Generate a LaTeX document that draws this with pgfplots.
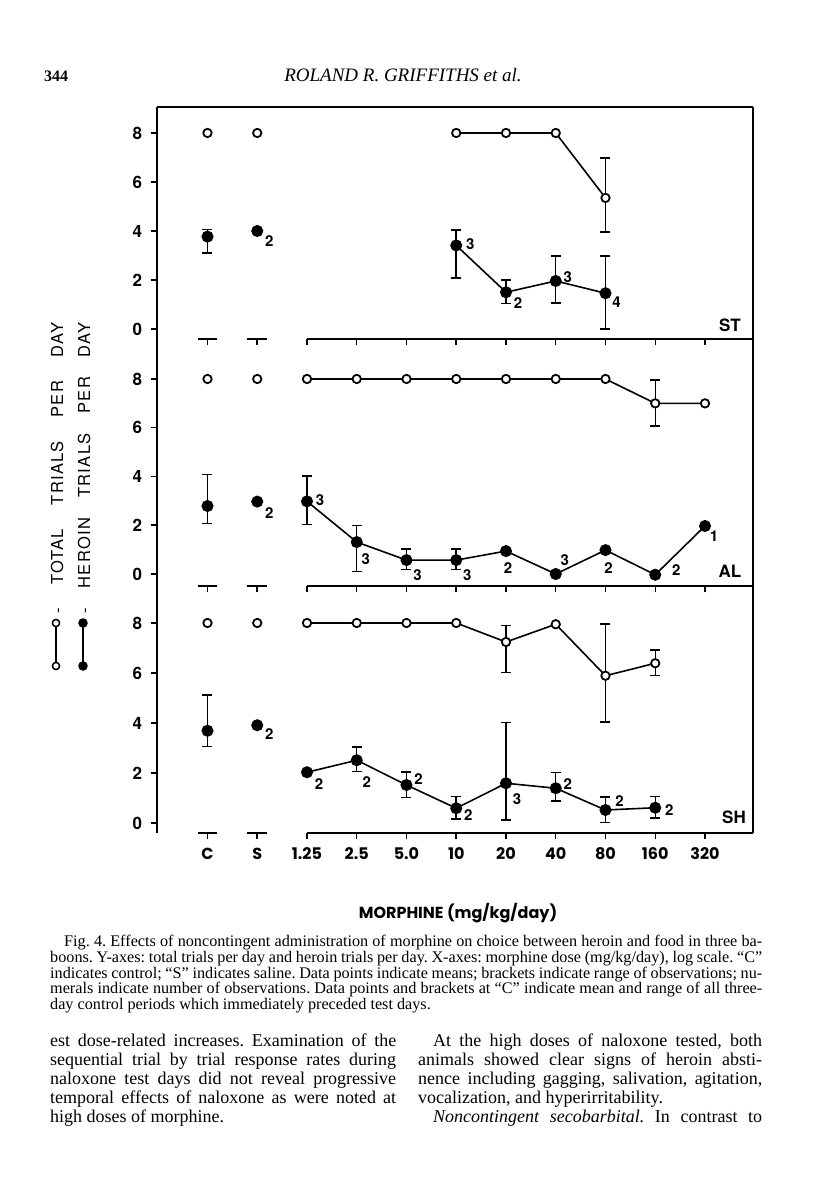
\documentclass[border=0pt]{standalone}
\usepackage{pgfplots}
\pgfplotsset{compat=1.18}
\usepackage{fontspec}
\setmainfont{Liberation Serif}
\newfontfamily\helv{TeX Gyre Heros}
\newfontfamily\helvsp[LetterSpace=8]{TeX Gyre Heros}
\newfontfamily\futura{Poppins}
\frenchspacing

\pgfplotsset{
  panel/.style={
    scale only axis, width=596pt, xmin=-3.015, xmax=8.965, clip=false,
    axis y line*=left, axis x line*=bottom,
    x axis line style={draw=none},
    y axis line style={-, line width=1.6pt},
    ytick={0,2,4,6,8}, xtick={-2,-1,0,1,2,3,4,5,6,7,8},
    tick align=outside, major tick length=6.5pt,
    every tick/.style={black, line width=1.5pt},
    yticklabel style={font=\helv\bfseries\fontsize{17}{17}\selectfont, xshift=-5pt,
      /pgf/number format/assume math mode=true},
    xticklabels={},
  },
  open/.style={black, line width=1.6pt, mark=*, mark size=4.2pt,
    mark options={fill=white, line width=1.8pt, solid}},
  full/.style={black, line width=1.6pt, mark=*, mark size=5.2pt,
    mark options={fill=black}},
  bars/.style={only marks, mark=none, forget plot,
    error bars/.cd, y dir=both, y explicit, error mark=none,
    error bar style={line width=1.5pt, black}},
  caps/.style={only marks, mark=-, mark size=5pt, black, forget plot,
    mark options={line width=1.5pt}},
}

% broken bottom axis line of a panel, and the right frame
\newcommand{\panelbase}[1]{%
  \draw[line width=1.6pt] (axis cs:0,#1) -- (axis cs:8.965,#1);
  \draw[line width=1.6pt] (axis cs:-2.2,#1) -- (axis cs:-1.8,#1);
  \draw[line width=1.6pt] (axis cs:-1.2,#1) -- (axis cs:-0.8,#1);
  \draw[line width=1.6pt] (rel axis cs:1,0) -- (rel axis cs:1,1);
}
% number of observations beside a point
\newcommand{\lab}[5]{\node[font=\helv\bfseries\fontsize{15}{15}\selectfont, inner sep=0pt,
  xshift=#3pt, yshift=#4pt] at (axis cs:#1,#2) {#5};}

\begin{document}
\begin{tikzpicture}[x=1pt,y=1pt]
\path[use as bounding box, fill=white] (0,0) rectangle (816,1200);

% header
\node[anchor=base west, inner sep=0pt, font=\bfseries\fontsize{16}{16}\selectfont] at (44,1118) {344};
\node[anchor=base, inner sep=0pt, font=\itshape\fontsize{19}{19}\selectfont] at (403,1118) {ROLAND R. GRIFFITHS et al.};

% ---------------- ST ----------------
\begin{axis}[panel, at={(157pt,861pt)}, anchor=south west,
  height=232pt, ymin=-0.408, ymax=9.061]
\draw[line width=1.6pt] (rel axis cs:0,1) -- (rel axis cs:1,1);
\panelbase{-0.408}
\addplot[bars] coordinates {(6,5.35) += (0,1.62) -= (0,1.40)};
\addplot[caps] coordinates {(6,6.97) (6,3.95)};
\addplot[open, only marks] coordinates {(-2,8) (-1,8)};
\addplot[open] coordinates {(3,8) (4,8) (5,8) (6,5.35)};
\addplot[bars] coordinates {
  (-2,3.77) += (0,0.30) -= (0,0.66)
  (3,3.41) += (0,0.63) -= (0,1.32)
  (4,1.50) += (0,0.50) -= (0,0.45)
  (5,1.96) += (0,1.02) -= (0,0.89)
  (6,1.46) += (0,1.52) -= (0,1.45)};
\addplot[caps] coordinates {(-2,4.07) (-2,3.11) (3,4.04) (3,2.09) (4,2.0) (4,1.05)
  (5,2.98) (5,1.07) (6,2.98) (6,0.01)};
\addplot[full, only marks] coordinates {(-2,3.77) (-1,4.0)};
\addplot[full] coordinates {(3,3.41) (4,1.50) (5,1.96) (6,1.46)};
\lab{-1}{4.0}{12}{-10}{2}
\lab{3}{3.41}{14}{1}{3}
\lab{4}{1.50}{12}{-11}{2}
\lab{5}{1.96}{12}{4}{3}
\lab{6}{1.46}{11}{-9}{4}
\end{axis}

% ---------------- AL ----------------
\begin{axis}[panel, at={(157pt,614pt)}, anchor=south west,
  height=247pt, ymin=-0.492, ymax=9.641]
\panelbase{-0.492}
\addplot[bars] coordinates {(7,7.0) += (0,0.96) -= (0,0.93)};
\addplot[caps] coordinates {(7,7.96) (7,6.07)};
\addplot[open, only marks] coordinates {(-2,8) (-1,8)};
\addplot[open] coordinates {(0,8) (1,8) (2,8) (3,8) (4,8) (5,8) (6,8) (7,7.0) (8,7.0)};
\addplot[bars] coordinates {
  (-2,2.79) += (0,1.30) -= (0,0.71)
  (0,2.98) += (0,1.05) -= (0,0.94)
  (1,1.31) += (0,0.67) -= (0,1.21)
  (2,0.57) += (0,0.46) -= (0,0.38)
  (3,0.57) += (0,0.46) -= (0,0.38)};
\addplot[caps] coordinates {(-2,4.09) (-2,2.08) (0,4.03) (0,2.04) (1,1.98) (1,0.10)
  (2,1.03) (2,0.19) (3,1.03) (3,0.19)};
\addplot[full, only marks] coordinates {(-2,2.79) (-1,2.97)};
\addplot[full] coordinates {(0,2.98) (1,1.31) (2,0.57) (3,0.57) (4,0.94) (5,0.0) (6,0.98) (7,-0.03) (8,1.97)};
\lab{-1}{2.97}{12}{-11}{2}
\lab{0}{2.98}{13}{1}{3}
\lab{1}{1.31}{9}{-17}{3}
\lab{2}{0.57}{11}{-15}{3}
\lab{3}{0.57}{11}{-15}{3}
\lab{4}{0.94}{2}{-17}{2}
\lab{5}{0.0}{9}{14}{3}
\lab{6}{0.98}{3}{-18}{2}
\lab{7}{-0.03}{21}{5}{2}
\lab{8}{1.97}{9}{-10}{1}
\end{axis}

% ---------------- SH ----------------
\begin{axis}[panel, at={(157pt,367pt)}, anchor=south west,
  height=247pt, ymin=-0.4, ymax=9.48,
  xticklabels={C,S,1.25,2.5,5.0,10,20,40,80,160,320},
  xticklabel style={font=\futura\bfseries\fontsize{16}{16}\selectfont, yshift=-5pt}]
\panelbase{-0.4}
\addplot[bars] coordinates {
  (4,7.24) += (0,0.65) -= (0,1.23)
  (6,5.89) += (0,2.06) -= (0,1.86)
  (7,6.39) += (0,0.52) -= (0,0.50)};
\addplot[caps] coordinates {(4,7.89) (4,6.01) (6,7.95) (6,4.03) (7,6.91) (7,5.89)};
\addplot[open, only marks] coordinates {(-2,8) (-1,8)};
\addplot[open] coordinates {(0,8) (1,8) (2,8) (3,8) (4,7.24) (5,7.95) (6,5.89) (7,6.39)};
\addplot[bars] coordinates {
  (-2,3.69) += (0,1.43) -= (0,0.64)
  (1,2.51) += (0,0.52) -= (0,0.46)
  (2,1.52) += (0,0.51) -= (0,0.51)
  (3,0.59) += (0,0.46) -= (0,0.44)
  (4,1.59) += (0,2.42) -= (0,1.47)
  (5,1.39) += (0,0.62) -= (0,0.51)
  (6,0.52) += (0,0.51) -= (0,0.51)
  (7,0.61) += (0,0.44) -= (0,0.42)};
\addplot[caps] coordinates {(-2,5.12) (-2,3.05) (1,3.03) (1,2.05) (2,2.03) (2,1.01)
  (3,1.05) (3,0.15) (4,4.01) (4,0.12) (5,2.01) (5,0.88) (6,1.03) (6,0.01)
  (7,1.05) (7,0.19)};
\addplot[full, only marks] coordinates {(-2,3.69) (-1,3.91)};
\addplot[full] coordinates {(0,2.03) (1,2.51) (2,1.52) (3,0.59) (4,1.59) (5,1.39) (6,0.52) (7,0.61)};
\lab{-1}{3.91}{12}{-9}{2}
\lab{0}{2.03}{12}{-12}{2}
\lab{1}{2.51}{10}{-22}{2}
\lab{2}{1.52}{12}{6}{2}
\lab{3}{0.59}{12}{-7}{2}
\lab{4}{1.59}{11}{-16}{3}
\lab{5}{1.39}{12}{4}{2}
\lab{6}{0.52}{14}{9}{2}
\lab{7}{0.61}{14}{-2}{2}
\end{axis}

% panel names
\node[font=\helv\bfseries\fontsize{17}{17}\selectfont] at (730,875) {ST};
\node[font=\helv\bfseries\fontsize{17}{17}\selectfont] at (730,629) {AL};
\node[font=\helv\bfseries\fontsize{17}{17}\selectfont] at (734,383) {SH};

% x axis title
\node[font=\futura\bfseries\fontsize{16}{16}\selectfont] at (458,287) {MORPHINE (mg/kg/day)};

% y axis titles with their keys
\node[rotate=90, anchor=base west, inner sep=0pt, font=\helvsp\fontsize{16.5}{16.5}\selectfont]
  at (63,586) {\makebox[291pt][s]{- TOTAL TRIALS PER DAY}};
\node[rotate=90, anchor=base west, inner sep=0pt, font=\helvsp\fontsize{16.5}{16.5}\selectfont]
  at (90,586) {\makebox[291pt][s]{- HEROIN TRIALS PER DAY}};
\draw[line width=1.5pt] (56,577) -- (56,534);
\draw[line width=1.5pt, fill=white] (56,577) circle (3.6);
\draw[line width=1.5pt, fill=white] (56,534) circle (3.6);
\draw[line width=1.5pt] (83,577) -- (83,534);
\fill (83,577) circle (4.8);
\fill (83,534) circle (4.8);

% caption
\begin{scope}[every node/.style={anchor=base west, inner sep=0pt, font=\fontsize{16.2}{15.6}\selectfont}]
\node at (64,253) {\makebox[698pt][s]{Fig. 4. Effects of noncontingent administration of morphine on choice between heroin and food in three ba-}};
\node at (50,237.4) {\makebox[712pt][s]{boons. Y-axes: total trials per day and heroin trials per day. X-axes: morphine dose (mg/kg/day), log scale. “C”}};
\node at (50,221.8) {\makebox[712pt][s]{indicates control; “S” indicates saline. Data points indicate means; brackets indicate range of observations; nu-}};
\node at (50,206.2) {\makebox[712pt][s]{merals indicate number of observations. Data points and brackets at “C” indicate mean and range of all three-}};
\node at (50,190.6) {day control periods which immediately preceded test days.};
\end{scope}

% body text
\begin{scope}[every node/.style={anchor=base west, inner sep=0pt, font=\fontsize{18}{19}\selectfont}]
\node at (50,153) {\makebox[346pt][s]{est dose-related increases. Examination of the}};
\node at (50,134.1) {\makebox[346pt][s]{sequential trial by trial response rates during}};
\node at (50,115.2) {\makebox[346pt][s]{naloxone test days did not reveal progressive}};
\node at (50,96.3) {\makebox[346pt][s]{temporal effects of naloxone as were noted at}};
\node at (50,77.4) {high doses of morphine.};
\node at (433,153) {\makebox[329pt][s]{At the high doses of naloxone tested, both}};
\node at (418,134.1) {\makebox[344pt][s]{animals showed clear signs of heroin absti-}};
\node at (418,115.2) {\makebox[344pt][s]{nence including gagging, salivation, agitation,}};
\node at (418,96.3) {vocalization, and hyperirritability.};
\node at (433,77.4) {\makebox[329pt][s]{\textit{Noncontingent secobarbital.} In contrast to}};
\end{scope}
\end{tikzpicture}
\end{document}
